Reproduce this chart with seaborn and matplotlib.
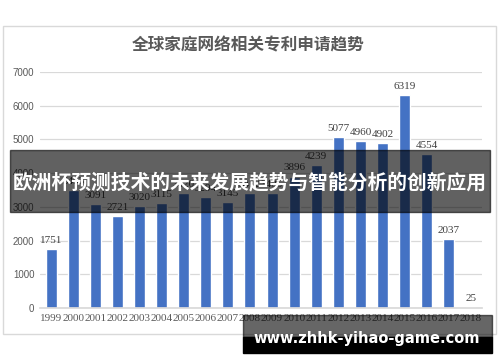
import matplotlib
matplotlib.use('Agg')
import pandas as pd
import seaborn as sns
import matplotlib.pyplot as plt
from matplotlib.patches import Rectangle

years = ['1999', '2000', '2001', '2002', '2003', '2004', '2005', '2006', '2007', '2008',
         '2009', '2010', '2011', '2012', '2013', '2014', '2015', '2016', '2017', '2018']
counts = [1751, 3493, 3091, 2721, 3020, 3115, 3420, 3294, 3145, 3412,
          3405, 3896, 4239, 5077, 4960, 4902, 6319, 4554, 2037, 25]
yticks = [0, 1000, 2000, 3000, 4000, 5000, 6000, 7000]

title = '全球家庭网络相关专利申请趋势'
banner = '欧洲杯预测技术的未来发展趋势与智能分析的创新应用'
site = 'www.zhhk-yihao-game.com'

W, H = 500, 362


def box(x0, y0, x1, y1):
    # pixel box (top-left origin) -> figure fraction
    return x0 / W, 1 - y1 / H, (x1 - x0) / W, (y1 - y0) / H


sns.set_theme(style='white')
plt.rcParams['font.family'] = ['Noto Sans CJK SC', 'DejaVu Sans']

df = pd.DataFrame({'year': years, 'count': counts})

fig = plt.figure(figsize=(W / 100, H / 100), dpi=100)
fig.patch.set_facecolor('white')

# chart frame
fig.patches.append(Rectangle((3 / W, 1 - 334 / H), 493 / W, 308 / H,
                             transform=fig.transFigure, fill=False,
                             edgecolor='#D9D9D9', linewidth=1))

ax = fig.add_axes(box(40, 72, 482, 308))
sns.barplot(data=df, x='year', y='count', color='#4472C4', width=0.5,
            saturation=1, ax=ax)
ax.set_ylim(0, 7000)
ax.set_xlim(-0.5, len(years) - 0.5)
ax.set_yticks(yticks)
ax.set_yticklabels([str(v) for v in yticks], family='Liberation Sans',
                   fontsize=7, color='#595959')
ax.set_xticks(range(len(years)))
ax.set_xticklabels(years, family='Liberation Serif', fontsize=8, color='#595959')
ax.tick_params(axis='both', length=0, pad=4)
ax.set_xlabel('')
ax.set_ylabel('')
ax.grid(axis='y', color='#D9D9D9', linewidth=0.9)
ax.set_axisbelow(True)
for s in ['top', 'right', 'left']:
    ax.spines[s].set_visible(False)
ax.spines['bottom'].set_color('#D9D9D9')
ax.bar_label(ax.containers[0], labels=[str(v) for v in counts], padding=3,
             family='Liberation Serif', fontsize=8, color='#404040')

fig.text(248 / W, 1 - 45 / H, title, ha='center', va='center',
         fontsize=12, color='#595959', fontweight='bold')

# overlay banner
fig.patches.append(Rectangle(box(10, 150, 490, 212)[:2], 480 / W, 62 / H,
                             transform=fig.transFigure, color='black',
                             alpha=0.62, zorder=10))
fig.text(250 / W, 1 - 182 / H, banner, ha='center', va='center',
         fontsize=14.2, color='white', fontweight='bold', zorder=11)

# watermark
fig.patches.append(Rectangle(box(243, 315, 492, 337)[:2], 249 / W, 22 / H,
                             transform=fig.transFigure, color='black',
                             alpha=0.6, zorder=10))
fig.patches.append(Rectangle(box(243, 337, 492, 353)[:2], 249 / W, 16 / H,
                             transform=fig.transFigure, color='black',
                             zorder=10))
fig.text(367 / W, 1 - 338 / H, site, ha='center', va='center',
         fontsize=10.5, color='white', fontweight='bold',
         family='DejaVu Sans', zorder=11)

fig.savefig('out.png', dpi=100)
